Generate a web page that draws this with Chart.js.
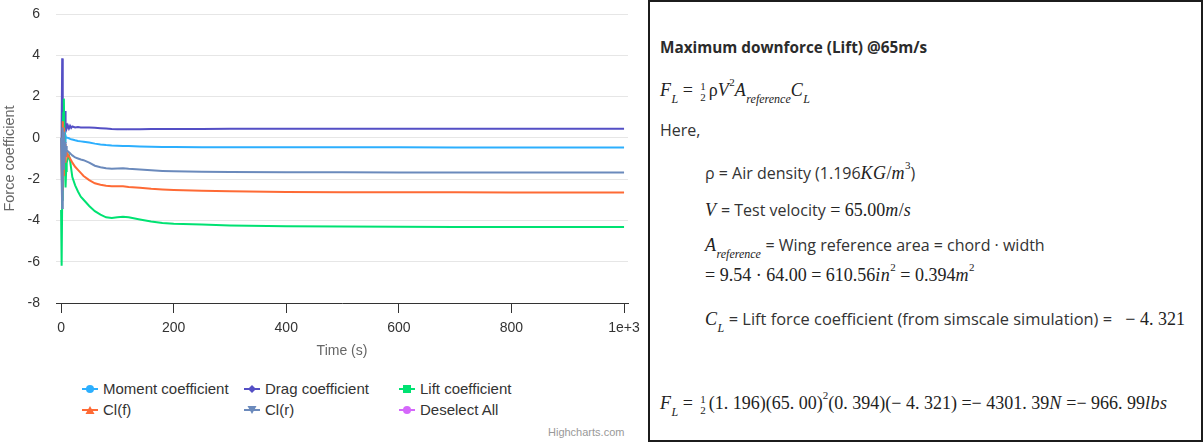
<!DOCTYPE html>
<html>
<head>
<meta charset="utf-8">
<script src="https://cdn.jsdelivr.net/npm/chart.js@4.4.1/dist/chart.umd.min.js"></script>
<style>
    body { margin: 0; background: #fff; width: 1203px; height: 443px; overflow: hidden; position: relative; }
    #chartBox { position: absolute; left: 0; top: 0; width: 640px; height: 370px; }
    .leg { position: absolute; font: 15px "Liberation Sans", Arial, sans-serif; color: #333; white-space: nowrap; }
    .leg svg { position: absolute; left: 0; top: 4px; }
    .leg span { position: absolute; left: 21px; top: 0; }
    #credit { position: absolute; left: 548px; top: 426px; font: 11px "Liberation Sans", Arial, sans-serif; color: #999; }
    #panel { position: absolute; left: 648px; top: 0; width: 555px; height: 442px; box-sizing: border-box;
        border: 2px solid #1c1c1c; font: 16px "Open Sans", sans-serif; color: #333; }
    .ln { position: absolute; white-space: nowrap; }
    .b { font-weight: 700; font-size: 15.3px; color: #2b2b2b; }
    .m { font-family: "Liberation Serif", serif; font-style: normal; font-size: 18px; color: #222; }
    .m i { letter-spacing: 0.5px; }
    .t { font-family: "Open Sans", sans-serif; font-style: normal; font-size: 16px; color: #333; }
    .u { font-size: 12px; font-style: italic; position: relative; top: 7px; }
    .p { font-size: 11px; position: relative; top: -10px; }
    .fr { display: inline-block; vertical-align: middle; text-align: center; font-size: 11px; line-height: 11px; margin: 0 3px; }
</style>
</head>
<body>
<div id="chartBox"><canvas id="forceChart" width="640" height="370"></canvas></div>
<div id="legend"></div>
<div id="credit">Highcharts.com</div>

<div id="panel">
    <div class="ln b" style="left:10px;top:35px">Maximum downforce (Lift) @65m/s</div>
    <div class="ln m" style="left:10px;top:78px"><i>F</i><span class="u">L</span> = <span class="fr">1<br>2</span>ρ<i>V</i><span class="p">2</span><i>A</i><span class="u">reference</span><i>C</i><span class="u">L</span></div>
    <div class="ln t" style="left:10px;top:117px">Here,</div>
    <div class="ln t" style="left:55px;top:160px">ρ = Air density (1.196<span class="m"><i>KG</i>/<i>m</i><span class="p">3</span></span>)</div>
    <div class="ln m" style="left:55px;top:197px"><i>V</i> <span class="t">= Test velocity</span> = 65.00<i>m</i>/<i>s</i></div>
    <div class="ln m" style="left:55px;top:232px"><i>A</i><span class="u">reference</span> <span class="t">= Wing reference area = chord · width</span></div>
    <div class="ln m" style="left:55px;top:263px">= 9.54 · 64.00 = 610.56<i>in</i><span class="p">2</span> = 0.394<i>m</i><span class="p">2</span></div>
    <div class="ln m" style="left:55px;top:305px"><i>C</i><span class="u">L</span> <span class="t" style="font-size:16.4px">= Lift force coefficient (from simscale simulation) = </span>&nbsp; − 4. 321</div>
    <div class="ln m" style="left:10px;top:391px"><i>F</i><span class="u">L</span> = <span class="fr">1<br>2</span>(1. 196)(65. 00)<span class="p">2</span>(0. 394)(− 4. 321) =− 4301. 39<i>N</i> =− 966. 99<i>lbs</i></div>
</div>

<script>
// time steps (s)
let timeS = [0, 1, 2, 3, 4, 5, 6, 7, 8, 9, 10, 12, 14, 16, 18, 20, 25, 30, 35, 40, 50, 60, 70, 80, 90,
    100, 110, 120, 140, 160, 180, 200, 250, 300, 400, 500, 600, 700, 800, 900, 1000];

let momentCoef = [0, -0.5, 0.8, -1.0, 0.5, -0.4, 0.3, -0.2, 0.1, 0, 0.02, 0, -0.02, -0.05, -0.07, -0.08, -0.12, -0.15, -0.17, -0.19, -0.23, -0.28, -0.32, -0.35, -0.37,
    -0.38, -0.39, -0.40, -0.42, -0.43, -0.44, -0.44, -0.45, -0.45, -0.46, -0.46, -0.46, -0.47, -0.47, -0.47, -0.47];

let dragCoef = [0, 0.5, 3.85, 1.2, 0.2, 1.4, 0.3, 1.3, 0.4, 0.7, 0.45, 0.6, 0.45, 0.58, 0.48, 0.55, 0.5, 0.52, 0.5, 0.5, 0.5, 0.49, 0.47, 0.45, 0.43,
    0.42, 0.42, 0.42, 0.42, 0.43, 0.43, 0.43, 0.43, 0.44, 0.44, 0.44, 0.44, 0.44, 0.44, 0.44, 0.44];

let liftCoef = [-3.5, -6.2, -3.0, 0.5, 1.2, 1.9, -0.5, -1.5, -2.4, -1.6, -1.2, -1.0, -0.85, -1.1, -1.5, -1.9, -2.3, -2.6, -2.85, -3.0, -3.3, -3.55, -3.72, -3.85, -3.88,
    -3.85, -3.82, -3.85, -3.95, -4.05, -4.12, -4.16, -4.2, -4.24, -4.28, -4.3, -4.31, -4.32, -4.32, -4.32, -4.32];

let clFront = [0, -1.5, -2.5, 0.8, -1.8, 0.5, -1.0, -0.3, -1.2, -0.6, -0.7, -0.8, -0.9, -1.0, -1.1, -1.2, -1.4, -1.55, -1.7, -1.85, -2.05, -2.2, -2.27, -2.32, -2.34,
    -2.35, -2.35, -2.38, -2.42, -2.47, -2.5, -2.52, -2.56, -2.59, -2.62, -2.63, -2.64, -2.64, -2.65, -2.65, -2.65];

let clRear = [0, -2.0, -3.4, 0.5, -1.5, 0.3, -1.2, -0.2, -0.9, -0.4, -0.6, -0.65, -0.7, -0.75, -0.8, -0.85, -0.95, -1.0, -1.05, -1.08, -1.2, -1.35, -1.42, -1.47, -1.5,
    -1.48, -1.47, -1.5, -1.53, -1.57, -1.6, -1.62, -1.64, -1.65, -1.67, -1.67, -1.68, -1.68, -1.68, -1.68, -1.68];

let xTicks = [0, 200, 400, 600, 800, 1000];
let xTickLabels = ["0", "200", "400", "600", "800", "1e+3"];

let seriesNames = ["Moment coefficient", "Drag coefficient", "Lift coefficient", "Cl(f)", "Cl(r)", "Deselect All"];
let seriesColors = ["#2caffe", "#544fc5", "#00e272", "#fe6a35", "#6b8abc", "#d568fb"];
let seriesMarkers = ["circle", "diamond", "square", "triangle", "triangle-down", "circle"];
let seriesValues = [momentCoef, dragCoef, liftCoef, clFront, clRear];

function toPoints(vals) {
    let pts = [];
    for (let i = 0; i < timeS.length; i++) {
        pts.push({x: timeS[i], y: vals[i]});
    }
    return pts;
}

let datasets = [];
for (let i = 0; i < seriesValues.length; i++) {
    datasets.push({
        label: seriesNames[i],
        data: toPoints(seriesValues[i]),
        borderColor: seriesColors[i],
        backgroundColor: seriesColors[i],
        borderWidth: 2,
        pointRadius: 0,
        fill: false,
        tension: 0,
        order: seriesValues.length - i
    });
}

new Chart(document.getElementById("forceChart"), {
    type: "line",
    data: {datasets: datasets},
    options: {
        responsive: false,
        animation: false,
        layout: {padding: {left: 1, right: 12, top: 14, bottom: 10}},
        plugins: {legend: {display: false}, tooltip: {enabled: false}},
        scales: {
            x: {
                type: "linear",
                min: -9,
                max: 1007,
                afterBuildTicks: function (s) {
                    s.ticks = xTicks.map(v => ({value: v}));
                },
                afterFit: function (s) {
                    s.height = 57;
                    s.paddingLeft = 0;
                    s.paddingRight = 0;
                },
                ticks: {
                    color: "#333",
                    font: {family: "Liberation Sans", size: 14},
                    padding: 7,
                    maxRotation: 0,
                    autoSkip: false,
                    callback: function (v) {
                        let k = xTicks.indexOf(v);
                        return k >= 0 ? xTickLabels[k] : "";
                    }
                },
                grid: {drawOnChartArea: false, drawTicks: true, tickLength: 10, color: "#333", lineWidth: 1},
                border: {display: true, color: "#333", width: 1},
                title: {display: true, text: "Time (s)", color: "#666", font: {family: "Liberation Sans", size: 14}, padding: 0}
            },
            y: {
                min: -8,
                max: 6,
                afterFit: function (s) {
                    s.width = 55;
                    s.paddingTop = 0;
                    s.paddingBottom = 0;
                },
                ticks: {
                    stepSize: 2,
                    color: "#333",
                    font: {family: "Liberation Sans", size: 14},
                    padding: 16
                },
                grid: {color: "#e6e6e6", lineWidth: 1, drawTicks: false},
                border: {display: false},
                title: {display: true, text: "Force coefficient", color: "#666", font: {family: "Liberation Sans", size: 14.5}, padding: 0}
            }
        }
    }
});

// legend, same layout as the original (3 columns, 2 rows)
let legCols = [82, 244, 399];
let legRows = [380, 401];
let legend = document.getElementById("legend");
for (let i = 0; i < seriesNames.length; i++) {
    let c = seriesColors[i];
    let shape = "";
    if (seriesMarkers[i] == "circle") shape = '<circle cx="8" cy="5" r="4" fill="' + c + '"/>';
    if (seriesMarkers[i] == "diamond") shape = '<polygon points="8,1 12,5 8,9 4,5" fill="' + c + '"/>';
    if (seriesMarkers[i] == "square") shape = '<rect x="4" y="1" width="8" height="8" fill="' + c + '"/>';
    if (seriesMarkers[i] == "triangle") shape = '<polygon points="8,1 12.5,9 3.5,9" fill="' + c + '"/>';
    if (seriesMarkers[i] == "triangle-down") shape = '<polygon points="3.5,1 12.5,1 8,9" fill="' + c + '"/>';
    let div = document.createElement("div");
    div.className = "leg";
    div.style.left = legCols[i % 3] + "px";
    div.style.top = legRows[Math.floor(i / 3)] + "px";
    div.innerHTML = '<svg width="16" height="10"><line x1="0" y1="5" x2="16" y2="5" stroke="' + c + '" stroke-width="2"/>' + shape + '</svg><span>' + seriesNames[i] + '</span>';
    legend.appendChild(div);
}
</script>
</body>
</html>
